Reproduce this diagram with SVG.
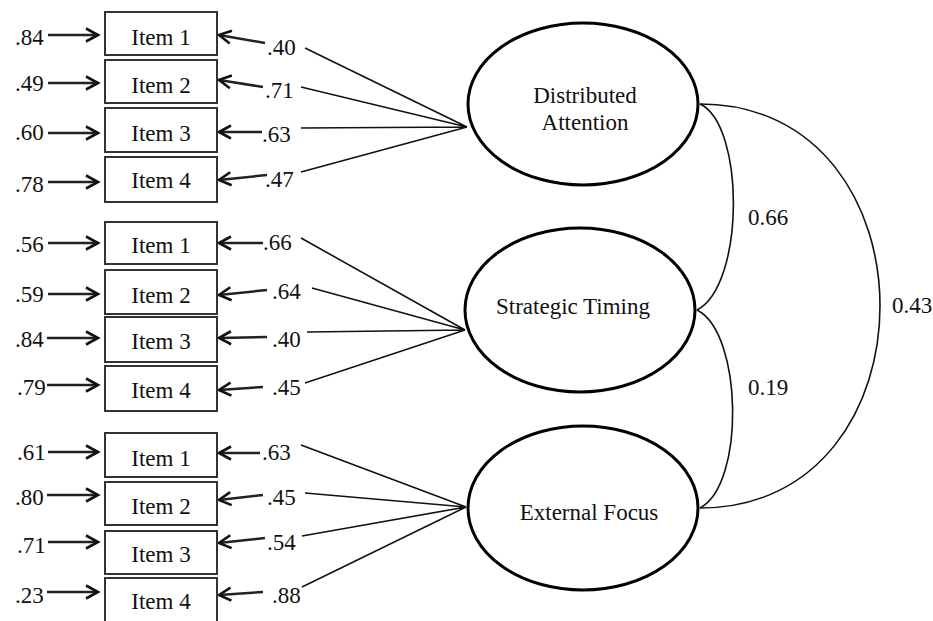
<svg xmlns="http://www.w3.org/2000/svg" width="933" height="621" viewBox="0 0 933 621">
<defs>
<marker id="ah" markerUnits="userSpaceOnUse" markerWidth="16" markerHeight="16" viewBox="0 0 16 16" refX="13" refY="8" orient="auto">
<path d="M1,1.5 L13,8 L1,14.5" fill="none" stroke="#111" stroke-width="2.6"/>
</marker>
<style>
text{font-family:"Liberation Serif","Times New Roman",serif;font-size:23px;fill:#111}
.box{fill:#fff;stroke:#333;stroke-width:2}
.lv{fill:#fff;stroke:#000;stroke-width:3}
.ar{stroke:#222;stroke-width:2.5;fill:none;marker-end:url(#ah)}
.ln{stroke:#111;stroke-width:1.6;fill:none}
.cv{stroke:#111;stroke-width:1.6;fill:none}
.c{text-anchor:middle}
</style>
</defs>
<rect width="933" height="621" fill="#fff"/>

<g id="connectors">
<!-- error arrows -->
<path class="ar" d="M48,35 L98,35"/>
<path class="ar" d="M48,83 L98,83"/>
<path class="ar" d="M48,133 L98,133"/>
<path class="ar" d="M48,182 L98,182"/>
<path class="ar" d="M48,243 L98,243"/>
<path class="ar" d="M48,294 L98,294"/>
<path class="ar" d="M47,338 L98,338"/>
<path class="ar" d="M47,385 L98,385"/>
<path class="ar" d="M48,452 L98,452"/>
<path class="ar" d="M47,495 L98,495"/>
<path class="ar" d="M48,542 L98,542"/>
<path class="ar" d="M47,592 L98,592"/>
<!-- loading arrows -->
<path class="ar" d="M265,43 L219,35"/>
<path class="ar" d="M263,87 L219,80"/>
<path class="ar" d="M262,132 L219,132"/>
<path class="ar" d="M267,175 L219,180"/>
<path class="ar" d="M263,243 L219,243"/>
<path class="ar" d="M267,290 L219,295"/>
<path class="ar" d="M267,337 L219,338"/>
<path class="ar" d="M263,387 L219,390"/>
<path class="ar" d="M260,453 L219,453"/>
<path class="ar" d="M263,495 L219,500"/>
<path class="ar" d="M265,538 L219,543"/>
<path class="ar" d="M263,592 L219,595"/>
<!-- lines to factors -->
<path class="ln" d="M305,48 L467,127 M301,87 L467,127 M301,128 L467,127 M301,172 L467,127"/>
<path class="ln" d="M301,238 L465,330 M312,288 L465,330 M307,332 L465,330 M305,383 L465,330"/>
<path class="ln" d="M301,445 L466,507 M305,493 L466,507 M302,536 L466,507 M302,587 L466,507"/>
<!-- correlations -->
<path class="cv" d="M700,104 C745,125 745,285 697,310"/>
<path class="cv" d="M697,310 C743,333 745,485 700,508"/>
<path class="cv" d="M700,104 C940,104 940,508 700,508"/>
<!-- labels -->
<text x="15" y="45">.84</text>
<text x="15" y="91">.49</text>
<text x="15" y="140">.60</text>
<text x="15" y="192">.78</text>
<text x="15" y="252">.56</text>
<text x="15" y="302">.59</text>
<text x="15" y="347">.84</text>
<text x="17" y="395">.79</text>
<text x="17" y="460">.61</text>
<text x="15" y="505">.80</text>
<text x="17" y="553">.71</text>
<text x="15" y="603">.23</text>
<text x="267" y="55">.40</text>
<text x="265" y="98">.71</text>
<text x="262" y="142">.63</text>
<text x="265" y="187">.47</text>
<text x="263" y="250">.66</text>
<text x="272" y="299">.64</text>
<text x="272" y="347">.40</text>
<text x="272" y="395">.45</text>
<text x="262" y="460">.63</text>
<text x="267" y="505">.45</text>
<text x="267" y="550">.54</text>
<text x="272" y="603">.88</text>
<text x="748" y="225">0.66</text>
<text x="748" y="395">0.19</text>
<text x="892" y="313">0.43</text>
</g>

<g id="da-item1"><rect class="box" x="105" y="12" width="112" height="43"/><text class="c" x="161" y="45">Item 1</text></g>
<g id="da-item2"><rect class="box" x="105" y="60" width="112" height="43"/><text class="c" x="161" y="93">Item 2</text></g>
<g id="da-item3"><rect class="box" x="105" y="108" width="112" height="44"/><text class="c" x="161" y="141">Item 3</text></g>
<g id="da-item4"><rect class="box" x="105" y="157" width="112" height="45"/><text class="c" x="161" y="188">Item 4</text></g>

<g id="st-item1"><rect class="box" x="105" y="222" width="112" height="42"/><text class="c" x="161" y="253">Item 1</text></g>
<g id="st-item2"><rect class="box" x="105" y="270" width="112" height="44"/><text class="c" x="161" y="303">Item 2</text></g>
<g id="st-item3"><rect class="box" x="105" y="317" width="112" height="45"/><text class="c" x="161" y="349">Item 3</text></g>
<g id="st-item4"><rect class="box" x="105" y="366" width="112" height="45"/><text class="c" x="161" y="398">Item 4</text></g>

<g id="ef-item1"><rect class="box" x="105" y="433" width="112" height="44"/><text class="c" x="161" y="466">Item 1</text></g>
<g id="ef-item2"><rect class="box" x="105" y="482" width="112" height="43"/><text class="c" x="161" y="514">Item 2</text></g>
<g id="ef-item3"><rect class="box" x="105" y="531" width="112" height="43"/><text class="c" x="161" y="562">Item 3</text></g>
<g id="ef-item4"><rect class="box" x="105" y="578" width="112" height="46"/><text class="c" x="161" y="609">Item 4</text></g>

<g id="distributed-attention"><ellipse class="lv" cx="583" cy="104" rx="115" ry="81"/><text class="c" x="585" y="103">Distributed</text><text class="c" x="585" y="130">Attention</text></g>
<g id="strategic-timing"><ellipse class="lv" cx="580" cy="310" rx="115" ry="82"/><text class="c" x="573" y="314">Strategic Timing</text></g>
<g id="external-focus"><ellipse class="lv" cx="583" cy="508" rx="115" ry="82"/><text class="c" x="589" y="520">External Focus</text></g>
</svg>
